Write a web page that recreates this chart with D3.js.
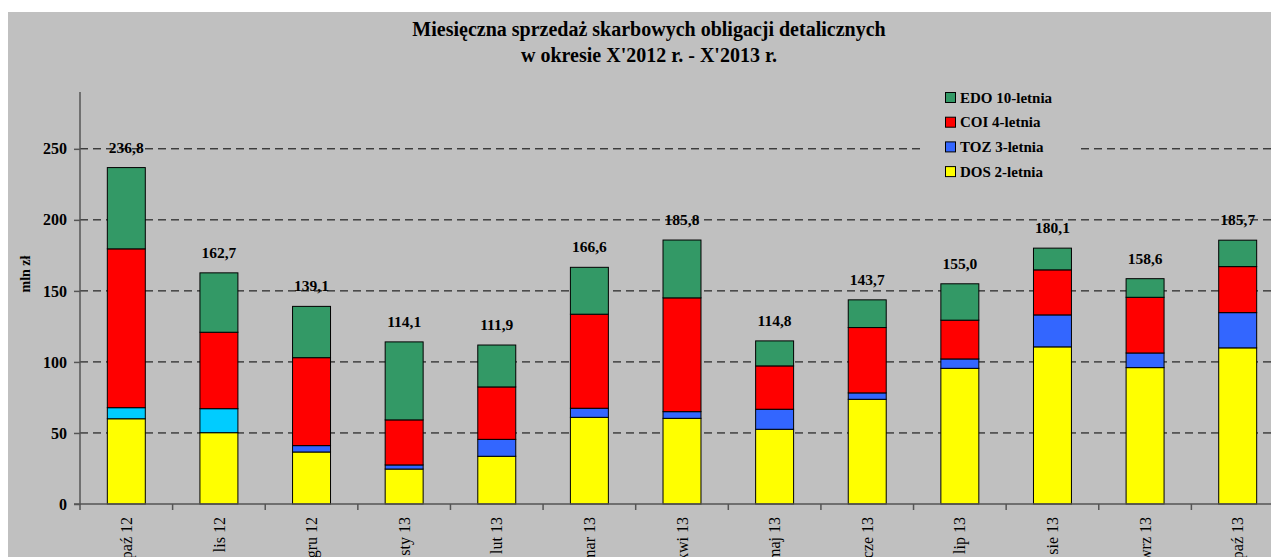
<!DOCTYPE html>
<html><head><meta charset="utf-8">
<script src="https://cdn.jsdelivr.net/npm/d3@7"></script>
<style>
html,body{margin:0;padding:0;background:#fff;}
svg{display:block;font-family:"Liberation Serif","Times New Roman",serif;}
</style></head>
<body>
<svg id="chart" width="1271" height="557"></svg>
<script>
const categories = ["paź 12","lis 12","gru 12","sty 13","lut 13","mar 13","kwi 13","maj 13","cze 13","lip 13","sie 13","wrz 13","paź 13"];
const dos = [60.0, 50.2, 36.6, 24.6, 33.6, 61.0, 60.3, 52.6, 73.7, 95.5, 110.6, 96.0, 109.9];
const toz = [7.8, 16.9, 4.5, 2.9, 11.9, 6.4, 4.7, 14.1, 4.5, 6.6, 22.5, 10.3, 24.8];
const coi = [111.8, 53.8, 61.9, 31.7, 36.9, 66.2, 80.1, 30.5, 46.0, 27.3, 31.7, 39.2, 32.4];
const edo = [57.2, 41.8, 36.1, 54.9, 29.5, 33.0, 40.7, 17.6, 19.5, 25.6, 15.3, 13.1, 18.6];
const totals = ["236,8","162,7","139,1","114,1","111,9","166,6","185,8","114,8","143,7","155,0","180,1","158,6","185,7"];
const yTicks = [0, 50, 100, 150, 200, 250];
const seriesNames = ["DOS 2-letnia","TOZ 3-letnia","COI 4-letnia","EDO 10-letnia"];
const seriesColors = ["#FFFF00","#3366FF","#FF0000","#339966"];
const tozAltColor = "#00CCFF"; // first two months shown in cyan
const tozAltMonths = ["paź 12","lis 12"];

(function(){
const svg = d3.select("#chart");
const W = 1271, H = 557;
svg.append("rect").attr("x",8).attr("y",12).attr("width",W-8).attr("height",H-12).attr("fill","#C0C0C0");

const pL = 80, pR = 1284, pT = 92, pB = 504;
const x = d3.scaleBand().domain(categories).range([pL, pR]).paddingInner(0.59).paddingOuter(0.295);
const y = d3.scaleLinear().domain([0, 290]).range([pB, pT]);

const plot = svg.append("g");
plot.selectAll("line.grid").data(yTicks.filter(d=>d>0)).enter().append("line")
  .attr("x1", pL).attr("x2", W).attr("y1", d=>y(d)).attr("y2", d=>y(d))
  .attr("stroke","#000").attr("stroke-width",1).attr("stroke-dasharray","8,5");

const table = categories.map((c,i)=>({cat:c, s0:dos[i], s1:toz[i], s2:coi[i], s3:edo[i]}));
const stack = d3.stack().keys(["s0","s1","s2","s3"])(table);
stack.forEach((layer, li)=>{
  plot.selectAll(null).data(layer).enter().append("rect")
    .attr("x", d=>x(d.data.cat))
    .attr("width", x.bandwidth())
    .attr("y", d=>y(d[1]))
    .attr("height", d=>y(d[0]) - y(d[1]))
    .attr("fill", d=> (li===1 && tozAltMonths.includes(d.data.cat)) ? tozAltColor : seriesColors[li])
    .attr("stroke","#000").attr("stroke-width",1);
});

plot.selectAll(null).data(stack[3]).enter().append("text")
  .attr("x", d=>x(d.data.cat) + x.bandwidth()/2)
  .attr("y", d=>y(d[1]) - 15)
  .attr("text-anchor","middle")
  .attr("font-size","15.5px").attr("font-weight","bold").attr("fill","#000")
  .text((d,i)=>totals[i]);

const lg = svg.append("g");
lg.append("rect").attr("x",925).attr("y",84).attr("width",153).attr("height",100).attr("fill","#C0C0C0");
const legendOrder = [3,2,1,0];
legendOrder.forEach((si, k)=>{
  const cy = 97.5 + k*24.7;
  lg.append("rect").attr("x",945.5).attr("y",cy-5).attr("width",10).attr("height",10)
    .attr("fill",seriesColors[si]).attr("stroke","#000").attr("stroke-width",1);
  lg.append("text").attr("x",960).attr("y",cy+5).attr("font-size","15px").attr("font-weight","bold")
    .text(seriesNames[si]);
});

const yAxis = svg.append("g").attr("transform",`translate(${pL},0)`)
  .call(d3.axisLeft(y).tickValues(yTicks).tickSize(6).tickPadding(7).tickFormat(d3.format("d")));
yAxis.select(".domain").attr("stroke","#555").attr("stroke-width",1.5).attr("d",`M-6,${pB}H0V${pT}`);
yAxis.selectAll(".tick line").attr("stroke","#555").attr("stroke-width",1.5);
yAxis.selectAll(".tick text").attr("font-size","16px").attr("font-weight","bold").attr("fill","#000")
  .attr("font-family","Liberation Serif, serif");

const xAxis = svg.append("g").attr("transform",`translate(0,${pB})`)
  .call(d3.axisBottom(x).tickSize(0).tickPadding(0));
xAxis.select(".domain").attr("stroke","#555").attr("stroke-width",1.5).attr("d",`M${pL},0H${W}`);
xAxis.selectAll(".tick text")
  .attr("font-size","16px").attr("fill","#000").attr("font-family","Liberation Serif, serif")
  .attr("transform","rotate(-90)").attr("text-anchor","end")
  .attr("x",-13).attr("y",0).attr("dy","0.35em");
const bounds = categories.map(c=>x(c) - x.step()*x.paddingOuter()).concat([pR]);
xAxis.selectAll("line.bt").data(bounds).enter().append("line")
  .attr("x1",d=>d).attr("x2",d=>d).attr("y1",0).attr("y2",6)
  .attr("stroke","#555").attr("stroke-width",1.5);

svg.append("text").attr("transform",`translate(30,${274}) rotate(-90)`)
  .attr("text-anchor","middle").attr("font-size","14px").attr("font-weight","bold").text("mln zł");

svg.append("text").attr("x",649).attr("y",36).attr("text-anchor","middle")
  .attr("font-size","20px").attr("font-weight","bold").text("Miesięczna sprzedaż skarbowych obligacji detalicznych");
svg.append("text").attr("x",649).attr("y",62).attr("text-anchor","middle")
  .attr("font-size","20px").attr("font-weight","bold").text("w okresie X'2012 r. - X'2013 r.");
})();
</script>
</body></html>
